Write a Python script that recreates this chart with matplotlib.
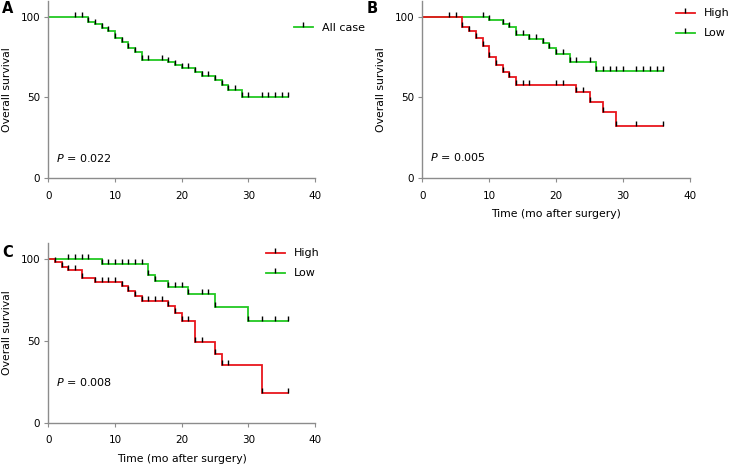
import matplotlib
matplotlib.use("Agg")
import matplotlib.pyplot as plt
from matplotlib.lines import Line2D
import numpy as np

plt.rcParams['font.family'] = ['DejaVu Sans']

GREEN = '#22C822'
RED = '#E8161C'
AXC = '#8C8C8C'

# ---------------- data ----------------
# Panel A: all cases
a_event_t = [6, 7, 8, 9, 10, 11, 12, 13, 14, 18, 19, 20, 22, 23, 25, 26, 27, 29]
a_event_s = [97.0, 95.5, 93.2, 91.2, 86.6, 84.1, 80.8, 78.4, 73.2, 71.8, 70.1, 68.0,
             66.0, 63.3, 60.8, 57.7, 54.5, 50.0]
a_cens_t = [4, 5, 7, 15, 17, 21, 24, 28, 30, 32, 33, 34, 35, 36]

# Panel B: High / Low
b_high_t = [6, 7, 8, 9, 10, 11, 12, 13, 14, 23, 25, 27, 29]
b_high_s = [93.4, 91.2, 86.5, 81.8, 75.2, 70.0, 65.5, 62.5, 57.7, 53.6, 47.4, 40.8, 32.6]
b_high_c = [15, 16, 20, 21, 24, 32, 36]
b_low_t = [10, 12, 13, 14, 16, 18, 19, 20, 22, 26]
b_low_s = [97.7, 95.5, 93.5, 88.5, 86.4, 83.6, 80.8, 76.8, 72.0, 66.3]
b_low_c = [4, 5, 9, 15, 17, 21, 23, 25, 27, 28, 29, 30, 32, 33, 34, 35, 36]

# Panel C: High / Low
c_high_t = [1, 2, 3, 5, 7, 11, 12, 13, 14, 18, 19, 20, 22, 25, 26, 32]
c_high_s = [98.4, 95.6, 93.5, 88.4, 86.4, 83.7, 80.6, 77.5, 74.6, 71.2, 67.0, 62.2,
            49.6, 42.3, 35.5, 18.1]
c_high_c = [4, 8, 9, 10, 15, 16, 17, 21, 23, 27, 36]
c_low_t = [8, 15, 16, 18, 21, 25, 30]
c_low_s = [97.4, 90.6, 86.8, 83.2, 78.6, 70.8, 62.4]
c_low_c = [3, 4, 5, 6, 9, 10, 11, 12, 13, 14, 19, 20, 23, 24, 32, 34, 36]

p_values = ['0.022', '0.005', '0.008']
x_ticks = [0, 10, 20, 30, 40]
y_ticks = [0, 50, 100]

# ---------------- drawing ----------------
W, H = 730, 468
fig = plt.figure(figsize=(W / 100, H / 100), dpi=100)


def add_ax(left, top, right, bottom):
    return fig.add_axes([left / W, 1 - bottom / H, (right - left) / W, (bottom - top) / H])


def style(ax, xlabel=True):
    ax.set_xlim(0, 40)
    ax.set_ylim(0, 110)
    ax.set_xticks(x_ticks)
    ax.set_yticks(y_ticks)
    for s in ['top', 'right']:
        ax.spines[s].set_visible(False)
    for s in ['left', 'bottom']:
        ax.spines[s].set_color(AXC)
        ax.spines[s].set_linewidth(1.0)
    ax.tick_params(axis='both', direction='out', length=3, width=0.8, color=AXC,
                   labelsize=7.5)
    ax.tick_params(axis='x', pad=6)
    ax.tick_params(axis='y', pad=3)
    ax.set_ylabel('Overall survival', fontsize=7.8, labelpad=6)
    if xlabel:
        ax.set_xlabel('Time (mo after surgery)', fontsize=7.8, labelpad=6)
    ax.patch.set_alpha(0)


def km(ax, ev_t, ev_s, cens_t, color, end=36):
    t = np.array([0] + ev_t + [end], dtype=float)
    s = np.array([100] + ev_s + [ev_s[-1]], dtype=float)
    ax.step(t, s, where='post', color=color, lw=1.3, zorder=2, solid_joinstyle='miter')
    marks = sorted(set(cens_t) | set(ev_t))
    ms = []
    for m in marks:
        idx = np.searchsorted(np.array(ev_t, dtype=float), m, side='right')
        ms.append(100 if idx == 0 else ev_s[idx - 1])
    ax.plot(marks, ms, linestyle='none', marker=2, markersize=3.8, mew=1.0,
            color='black', zorder=3)


def handle(color):
    return Line2D([], [], color=color, lw=1.3, marker=2, markersize=3.8, mew=1.0,
                  mec='black', mfc='black')


axA = add_ax(48.3, 0.5, 315, 178.3)
axB = add_ax(422.3, 0.5, 690, 178.3)
axC = add_ax(48.3, 243, 315, 422.7)

style(axA, xlabel=False)
style(axB)
style(axC)

km(axA, a_event_t, a_event_s, a_cens_t, GREEN)
km(axB, b_low_t, b_low_s, b_low_c, GREEN)
km(axB, b_high_t, b_high_s, b_high_c, RED)
km(axC, c_low_t, c_low_s, c_low_c, GREEN)
km(axC, c_high_t, c_high_s, c_high_c, RED)

for ax, p, y in zip([axA, axB, axC], p_values, [12.5, 13.0, 25.0]):
    ax.text(1.2, y, r'$P$ = ' + p, fontsize=8, va='center', ha='left')

leg_kw = dict(frameon=False, loc='upper left', borderaxespad=0, borderpad=0,
              handlelength=1.7, handletextpad=0.8, labelspacing=0.9, fontsize=8)
fig.legend([handle(GREEN)], ['All case'], bbox_to_anchor=(294 / W, 1 - 23 / H), **leg_kw)
fig.legend([handle(RED), handle(GREEN)], ['High', 'Low'],
           bbox_to_anchor=(676 / W, 1 - 8.5 / H), **leg_kw)
fig.legend([handle(RED), handle(GREEN)], ['High', 'Low'],
           bbox_to_anchor=(266 / W, 1 - 248.5 / H), **leg_kw)

for lab, x, y in [('A', 2, 13), ('B', 367, 13), ('C', 2, 257)]:
    fig.text(x / W, 1 - y / H, lab, fontsize=10.5, fontweight='bold', ha='left', va='baseline')

fig.savefig('out.png', dpi=100)
